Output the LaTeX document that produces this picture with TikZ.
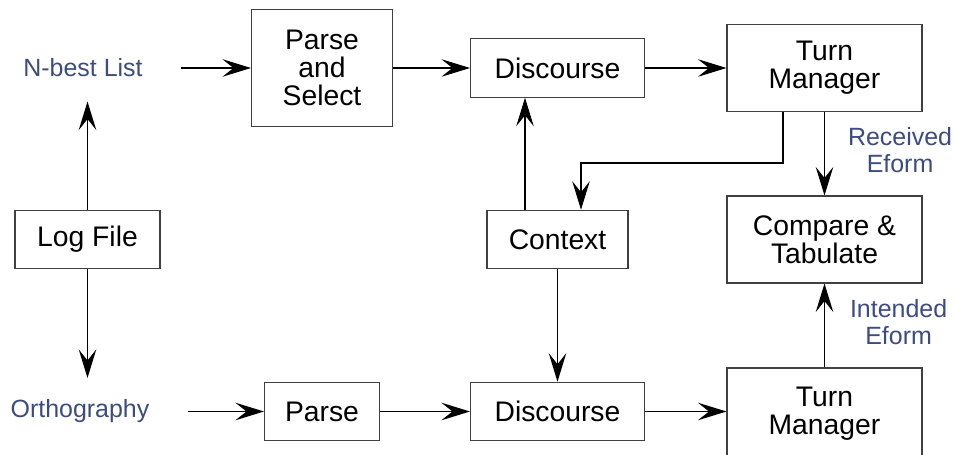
\documentclass[tikz,border=0pt]{standalone}
\usepackage{fontspec}
\setmainfont{Liberation Sans}
\usetikzlibrary{positioning,arrows.meta}
\definecolor{labelblue}{RGB}{60,76,128}

\begin{document}
\begin{tikzpicture}[
    on grid,
    line width=0.6pt,
    >={Stealth[length=5.7mm, width=3.5mm, inset=2.2mm]},
    box/.style={draw=black!75, inner sep=0pt, align=center, minimum height=1.17cm, font=\fontsize{16.1}{16.1}\selectfont},
    bigbox/.style={box, minimum width=3.9cm, minimum height=1.74cm},
    inlabel/.style={text=labelblue, inner xsep=0.76cm, inner ysep=0pt, minimum height=1.32cm, font=\fontsize{14.2}{15.2}\selectfont},
    flowlabel/.style={text=labelblue, inner sep=0pt, align=center, font=\fontsize{14.2}{15.2}\selectfont}
]
\useasboundingbox (0,0) rectangle (19.1,-9.1);

% middle row
\node[box, minimum width=2.9cm] (logfile) at (1.75,-4.79) {Log File};
\node[box, minimum width=2.82cm, right=9.4cm of logfile] (context) {Context};
\node[bigbox, right=5.34cm of context] (compare) {Compare \&\\Tabulate};

% top row
\node[inlabel, above=3.43cm of logfile, xshift=-0.09cm] (nbest) {N-best List};
\node[box, minimum width=3.48cm, above=3.43cm of context] (disc1) {Discourse};
\node[box, minimum width=2.82cm, minimum height=2.34cm, left=4.71cm of disc1] (parsesel) {Parse\\and\\Select};
\node[bigbox, above=3.43cm of compare] (tm1) {Turn\\Manager};

% bottom row
\node[inlabel, below=3.44cm of logfile, xshift=-0.15cm] (ortho) {Orthography};
\node[box, minimum width=3.48cm, below=3.44cm of context] (disc2) {Discourse};
\node[box, minimum width=2.3cm, left=4.71cm of disc2] (parse) {Parse};
\node[bigbox, minimum height=1.82cm, below=3.44cm of compare, yshift=-0.04cm] (tm2) {Turn\\Manager};

\draw[->] (logfile) -- (logfile |- nbest.south);
\draw[->] (logfile) -- (logfile |- ortho.north);
\draw[->] (nbest) -- (parsesel);
\draw[->] (parsesel) -- (disc1);
\draw[->] (disc1) -- (tm1);
\draw[->] (ortho) -- (parse);
\draw[->] (parse) -- (disc2);
\draw[->] (disc2) -- (disc2 -| tm2.west);
\draw[->] ([xshift=-0.65cm]context.north) -- ([xshift=-0.65cm]context.north |- disc1.south);
\draw[->] (context) -- (disc2);
\draw[->] ([xshift=-0.83cm]tm1.south) -- ++(0,-1.02) -| ([xshift=0.47cm]context.north);
\draw[->] (tm1) -- (compare)
    node[midway, flowlabel, anchor=west, xshift=0.46cm, yshift=0.08cm] {Received\\Eform};
\draw[->] (tm2) -- (compare)
    node[midway, flowlabel, anchor=west, xshift=0.5cm, yshift=0.07cm] {Intended\\Eform};
\end{tikzpicture}
\end{document}
